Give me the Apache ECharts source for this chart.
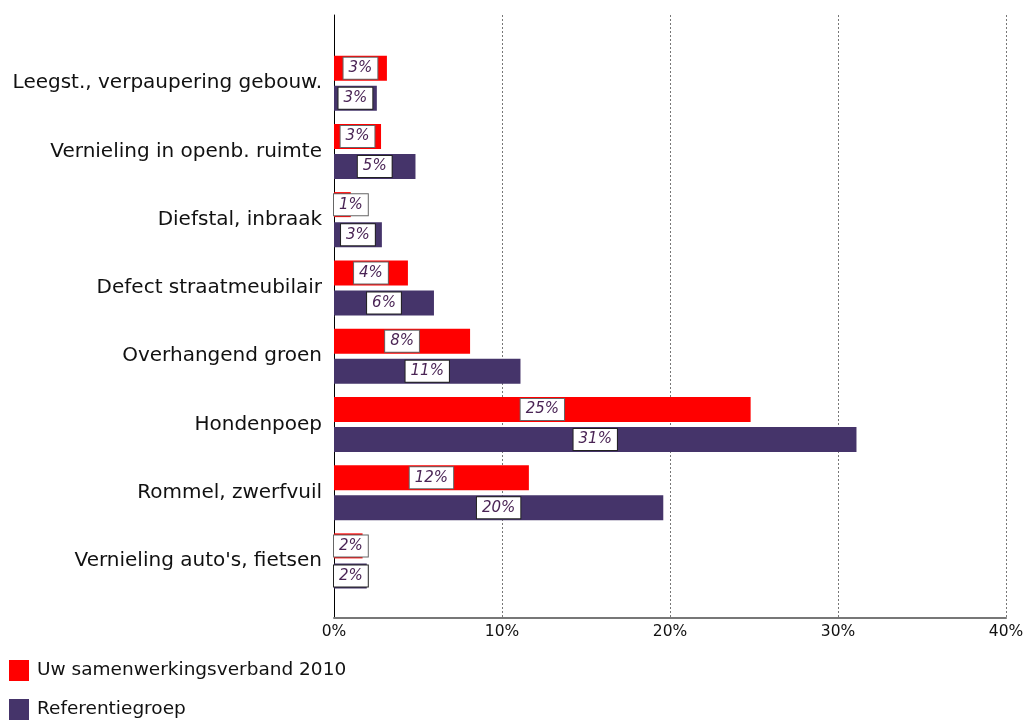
<!DOCTYPE html>
<html>
<head>
<meta charset="utf-8">
<script src="https://cdn.jsdelivr.net/npm/echarts@6/dist/echarts.min.js"></script>
<style>html,body{margin:0;padding:0;background:#fff}#c{width:1027px;height:722px}</style>
</head>
<body>
<div id="c"></div>
<script>
var categories = ["Leegst., verpaupering gebouw.", "Vernieling in openb. ruimte", "Diefstal, inbraak", "Defect straatmeubilair", "Overhangend groen", "Hondenpoep", "Rommel, zwerfvuil", "Vernieling auto's, fietsen"];
var seriesNames = ["Uw samenwerkingsverband 2010", "Referentiegroep"];
var ownValues = [3.15, 2.8, 1.0, 4.4, 8.1, 24.8, 11.6, 1.7];
var refValues = [2.55, 4.85, 2.85, 5.95, 11.1, 31.1, 19.6, 1.95];
var xTicks = [0, 10, 20, 30, 40];

var SMALL = 2.3; // bars narrower than the label box get a left-aligned label
function labelBox(border) {
  return {
    show: true,
    formatter: function (p) { return Math.round(p.value) + '%'; },
    color: '#4a2455',
    fontStyle: 'italic',
    fontFamily: 'DejaVu Sans',
    fontSize: 15,
    backgroundColor: '#fff',
    borderColor: border,
    borderWidth: 1,
    padding: [3, 5, 3, 5]
  };
}
function toData(arr) {
  return arr.map(function (v) {
    if (v < SMALL) {
      return { value: v, label: { position: 'insideLeft', distance: 0 } };
    }
    return { value: v, label: { position: 'inside' } };
  });
}

var chart = echarts.init(document.getElementById('c'));
chart.setOption({
  animation: false,
  textStyle: { fontFamily: 'DejaVu Sans' },
  legend: {
    orient: 'vertical', left: 9, top: 660, padding: 0,
    itemWidth: 20, itemHeight: 21, itemGap: 18,
    icon: 'rect',
    data: seriesNames,
    textStyle: { fontSize: 18.5, color: '#111', fontFamily: 'DejaVu Sans', padding: [0, 0, 0, 3] }
  },
  grid: [
    { left: 334, right: 21, top: 15, bottom: 104 },
    { left: 334, right: 21, top: 49, bottom: 127 }
  ],
  xAxis: [
    {
      gridIndex: 0, type: 'value', min: xTicks[0], max: xTicks[xTicks.length - 1], interval: 10,
      axisLine: { show: true, lineStyle: { color: '#777', width: 2 } },
      axisTick: { show: false },
      axisLabel: { formatter: '{value}%', fontSize: 15.5, color: '#111', margin: 6 },
      splitLine: { show: true, lineStyle: { color: '#777', type: [2, 2], width: 1 } }
    },
    {
      gridIndex: 1, type: 'value', min: xTicks[0], max: xTicks[xTicks.length - 1],
      show: false, splitLine: { show: false }
    }
  ],
  yAxis: [
    {
      gridIndex: 0, type: 'value', min: 0, max: 1,
      axisLine: { show: true, lineStyle: { color: '#000', width: 1 } },
      axisLabel: { show: false }, axisTick: { show: false }, splitLine: { show: false }
    },
    {
      gridIndex: 1, type: 'category', data: categories, inverse: true,
      axisLine: { show: false }, axisTick: { show: false },
      axisLabel: { fontSize: 20, color: '#111', margin: 12 }
    }
  ],
  series: [
    {
      name: seriesNames[0], type: 'bar', xAxisIndex: 1, yAxisIndex: 1,
      data: toData(ownValues), itemStyle: { color: '#ff0000' },
      barWidth: 25, barGap: '20%', label: labelBox('#666')
    },
    {
      name: seriesNames[1], type: 'bar', xAxisIndex: 1, yAxisIndex: 1,
      data: toData(refValues), itemStyle: { color: '#45346a' },
      barWidth: 25, barGap: '20%', label: labelBox('#222')
    }
  ]
});
</script>
</body>
</html>
